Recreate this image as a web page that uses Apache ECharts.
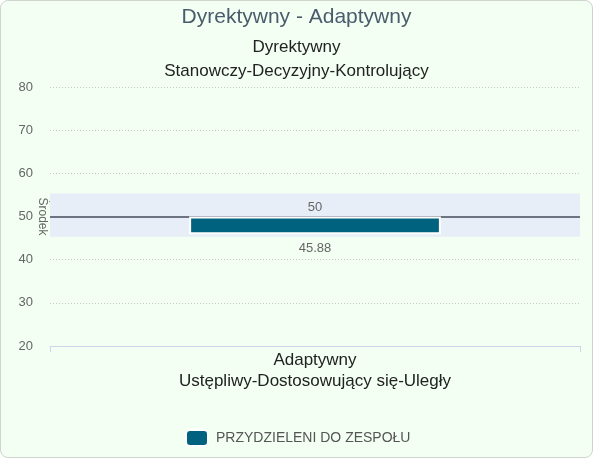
<!DOCTYPE html>
<html>
<head>
<meta charset="utf-8">
<script src="https://cdn.jsdelivr.net/npm/echarts@6/dist/echarts.min.js"></script>
<style>
html, body { margin: 0; padding: 0; background: #fff; }
#box {
	width: 591px; height: 456px;
	border: 1px solid #cfd4cf; border-radius: 8px;
	background: #f3fff3; overflow: hidden;
}
#chart { width: 591px; height: 456px; }
</style>
</head>
<body>
<div id="box"><div id="chart"></div></div>
<script>
// dane wykresu
var categories = ['PRZYDZIELENI DO ZESPOŁU'];
var lowValues = [45.88];
var highValues = [50];
var middleValue = 50;
var bandRange = [45.3, 55.3];
var yMin = 20, yMax = 80, yStep = 10;

var font = '"Liberation Sans", Arial, sans-serif';

var chart = echarts.init(document.getElementById('chart'));

var option = {
	animation: false,
	textStyle: { fontFamily: font },
	title: [
		{
			text: 'Dyrektywny - Adaptywny',
			left: 'center', top: 1,
			textStyle: { fontSize: 21, fontWeight: 'normal', color: '#4a5b6c', fontFamily: font }
		},
		{
			text: 'Dyrektywny\nStanowczy-Decyzyjny-Kontrolujący',
			left: 'center', top: 29,
			textStyle: { fontSize: 17, fontWeight: 'normal', color: '#222', lineHeight: 24, fontFamily: font }
		}
	],
	legend: {
		data: [categories[0]],
		left: 179, top: 423,
		icon: 'roundRect',
		itemWidth: 22, itemHeight: 16, itemGap: 8,
		textStyle: { fontSize: 14, color: '#555', fontFamily: font, padding: [0, 0, 0, 3] }
	},
	grid: { left: 49, right: 12, top: 86, bottom: 111 },
	xAxis: {
		type: 'category',
		data: categories,
		name: 'Adaptywny\nUstępliwy-Dostosowujący się-Uległy',
		nameLocation: 'middle',
		nameGap: 4,
		nameTextStyle: { fontSize: 17, color: '#222', lineHeight: 21, verticalAlign: 'top', fontFamily: font },
		axisLine: { lineStyle: { color: '#ccd6eb', width: 1 } },
		axisTick: { show: true, length: 6, lineStyle: { color: '#ccd6eb' } },
		axisLabel: { show: false }
	},
	yAxis: {
		type: 'value',
		min: yMin, max: yMax, interval: yStep,
		axisLine: { show: false },
		axisTick: { show: false },
		axisLabel: { color: '#666', fontSize: 13, margin: 17, fontFamily: font },
		splitLine: { lineStyle: { color: '#c8c8c8', type: [1, 2] } }
	},
	series: [
		{
			name: 'base',
			type: 'bar',
			stack: 'r',
			z: 1,
			barWidth: '47.5%',
			data: lowValues,
			itemStyle: { color: 'rgba(0,0,0,0)' },
			label: {
				show: true, position: 'insideTop', distance: 8,
				color: '#666', fontSize: 13, fontFamily: font,
				formatter: function (p) { return lowValues[p.dataIndex]; }
			},
			markArea: {
				silent: true,
				itemStyle: { color: '#e8eef7' },
				data: [[{ yAxis: bandRange[0] }, { yAxis: bandRange[1] }]]
			},
			markLine: {
				silent: true,
				symbol: 'none',
				label: { show: false },
				lineStyle: { color: '#6d7380', width: 2, type: 'solid' },
				data: [{ yAxis: middleValue }]
			}
		},
		{
			name: categories[0],
			type: 'bar',
			stack: 'r',
			zlevel: 1,
			barWidth: '47.5%',
			data: highValues.map(function (v, i) { return v - lowValues[i]; }),
			itemStyle: { color: '#00627f', borderColor: '#fff', borderWidth: 2 },
			label: {
				show: true, position: 'top', distance: 3,
				color: '#666', fontSize: 13, fontFamily: font,
				formatter: function (p) { return highValues[p.dataIndex]; }
			}
		}
	]
};
chart.setOption(option);

// etykieta linii środka
var pt = chart.convertToPixel({ gridIndex: 0 }, [0, middleValue]);
chart.setOption({
	graphic: [{
		type: 'text',
		x: 41, y: pt[1],
		rotation: -Math.PI / 2,
		style: {
			text: 'Środek', fill: '#666', fontSize: 12, fontFamily: font,
			textAlign: 'center', textVerticalAlign: 'middle'
		}
	}]
});
</script>
</body>
</html>
